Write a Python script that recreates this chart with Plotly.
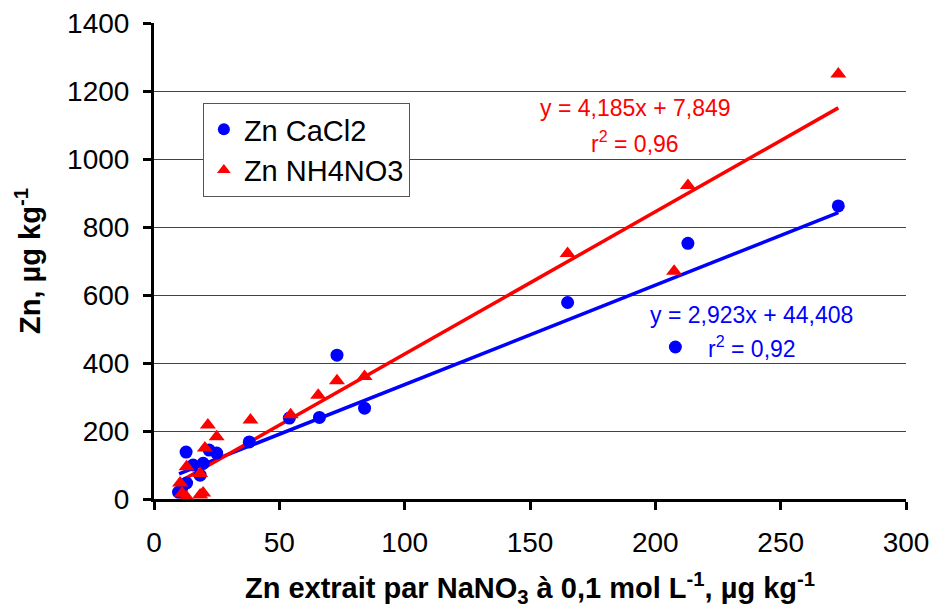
import plotly.graph_objects as go

# Zn CaCl2 (blue circles)
cacl2_x = [273, 213, 165, 208, 84, 73, 66, 54, 38, 12.8, 25, 22, 19.6, 15.6, 18.4, 13, 9.8, 11]
cacl2_y = [862, 752, 578, 447, 267, 423, 240, 238, 168, 138, 135, 144, 105, 100, 70, 47, 20, 30]

# Zn NH4NO3 (red triangles)
nh4_x = [273, 213, 165, 207.5, 84, 73, 65.5, 54.5, 38.5, 21.5, 25, 20.3, 13, 18.4, 10.4, 11.2, 13, 18.4, 19.6]
nh4_y = [1250, 922, 722, 670, 360, 348, 305, 248, 232, 218, 183, 150, 95, 75, 47, 17, 6, 12, 18]

# regression coefficients (from chart text)
fit_red = (4.185, 7.849)
fit_blue = (2.923, 44.408)
fit_x = [10, 273]

blue = "#0000FF"
red = "#FF0000"
font = "Liberation Sans, Arial, sans-serif"

fig = go.Figure()
fig.add_trace(go.Scatter(x=fit_x, y=[fit_blue[0]*x + fit_blue[1] for x in fit_x], mode="lines",
                         line=dict(color=blue, width=3.5), showlegend=False, hoverinfo="skip"))
fig.add_trace(go.Scatter(x=fit_x, y=[fit_red[0]*x + fit_red[1] for x in fit_x], mode="lines",
                         line=dict(color=red, width=3.5), showlegend=False, hoverinfo="skip"))
fig.add_trace(go.Scatter(x=cacl2_x, y=cacl2_y, mode="markers", name="Zn CaCl2",
                         marker=dict(symbol="circle", size=13, color=blue)))
fig.add_trace(go.Scatter(x=nh4_x, y=nh4_y, mode="markers", name="Zn NH4NO3",
                         marker=dict(symbol="triangle-up", size=14, color=red)))

anns = [
    dict(x=192, y=1150, text="y = 4,185x + 7,849", color=red),
    dict(x=192, y=1050, text="r<sup>2</sup> = 0,96", color=red),
    dict(x=238.5, y=541, text="y = 2,923x + 44,408", color=blue),
    dict(x=238.5, y=447, text="r<sup>2</sup> = 0,92", color=blue),
]
for a in anns:
    fig.add_annotation(x=a["x"], y=a["y"], xref="x", yref="y", text=a["text"], showarrow=False,
                       font=dict(family=font, size=23, color=a["color"]))

fig.update_layout(
    width=948, height=613,
    margin=dict(l=146, r=50, t=15, b=122),
    paper_bgcolor="white", plot_bgcolor="white",
    font=dict(family=font, size=28, color="black"),
    legend=dict(x=0.065, y=0.832, xanchor="left", yanchor="top",
                bgcolor="white", bordercolor="#555555", borderwidth=1,
                font=dict(family=font, size=29, color="black"),
                tracegroupgap=0, itemsizing="constant", itemwidth=30),
    xaxis=dict(range=[0, 300], tickvals=[0, 50, 100, 150, 200, 250, 300],
               showgrid=False, zeroline=False, showline=True, linecolor="black", linewidth=3,
               ticks="outside", ticklen=8, tickwidth=3, tickcolor="black",
               tickfont=dict(size=28), ticklabelstandoff=8, automargin=False,
               ticklabeloverflow="allow",
               title=dict(text="<b>Zn extrait par NaNO<sub>3</sub> à 0,1 mol L<sup>-1</sup>, µg kg<sup>-1</sup></b>",
                          font=dict(size=29), standoff=22)),
    yaxis=dict(range=[0, 1400], tickvals=[0, 200, 400, 600, 800, 1000, 1200, 1400],
               showgrid=True, gridcolor="#444444", gridwidth=1, zeroline=False,
               showline=True, linecolor="black", linewidth=3,
               ticks="outside", ticklen=8, tickwidth=3, tickcolor="black",
               tickfont=dict(size=28), ticklabelstandoff=8, automargin=False,
               ticklabeloverflow="allow",
               title=dict(text="<b>Zn, µg kg<sup>-1</sup></b>", font=dict(size=29), standoff=18)),
)

fig.write_html("out.html")
